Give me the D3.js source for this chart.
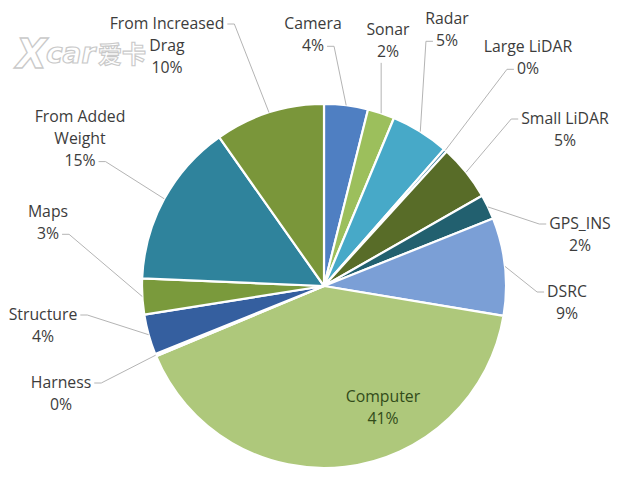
<!DOCTYPE html>
<html><head><meta charset="utf-8">
<script src="https://cdn.jsdelivr.net/npm/d3@7"></script>
<style>html,body{margin:0;padding:0;background:#fff;}svg{display:block;}</style>
</head><body>
<svg id="chart" width="627" height="480"></svg>
<script>
// ---- data ----
const categories = ["Camera","Sonar","Radar","Large LiDAR","Small LiDAR","GPS_INS","DSRC","Computer","Harness","Structure","Maps","From Added Weight","From Increased Drag"];
const shares = [3.9, 2.4, 5.2, 0.3, 5.0, 2.2, 8.7, 41.2, 0.2, 3.6, 3.2, 14.6, 9.8];
const percentLabels = ["4%","2%","5%","0%","5%","2%","9%","41%","0%","4%","3%","15%","10%"];
const labelLines = [["Camera"],["Sonar"],["Radar"],["Large LiDAR"],["Small LiDAR"],["GPS_INS"],["DSRC"],["Computer"],["Harness"],["Structure"],["Maps"],["From Added","Weight"],["From Increased","Drag"]];

// ---- style / layout ----
const colors = ["#4f7fc2","#9cbf5c","#47a9c8","#3f7fa0","#586c28","#22606f","#7b9fd6","#aec87b","#8aa6d8","#355f9f","#7a9a3c","#2f839c","#7a963a"];
// label position: x center, y of first line; side of leader attach; line index to attach
const labelLayout = [
  {x:313,y:23,side:"r",line:1},
  {x:388,y:29,side:"b",line:1},
  {x:447,y:18,side:"l",line:1},
  {x:528,y:46,side:"l",line:1},
  {x:565,y:118,side:"l",line:0},
  {x:580,y:223,side:"l",line:0},
  {x:567,y:291,side:"l",line:0},
  {x:383,y:396,side:"none",line:0},
  {x:61,y:382,side:"r",line:0},
  {x:43,y:314,side:"r",line:0},
  {x:48,y:211,side:"r",line:1},
  {x:80,y:116,side:"r",line:2},
  {x:167,y:23,side:"r",line:0}
];
const W=627,H=480,cx=324,cy=286,R=182,lineH=22.3,fontSize=15.8;

const svg=d3.select("#chart");
const g=svg.append("g").attr("transform",`translate(${cx},${cy})`);
const pie=d3.pie().sort(null).value(d=>d)(shares);
const arc=d3.arc().innerRadius(0).outerRadius(R);

g.selectAll("path.slice").data(pie).join("path").attr("class","slice")
  .attr("d",arc).attr("fill",(d,i)=>colors[i])
  .attr("stroke","#fff").attr("stroke-width",2.2).attr("stroke-linejoin","round");

// watermark (kept clear of the labels)
const wm=svg.append("g").attr("opacity",0.9);
wm.append("text").attr("x",16).attr("y",68).text("X")
  .attr("font-family","DejaVu Sans").attr("font-weight","bold").attr("font-style","italic")
  .attr("font-size",40).attr("fill","#fff").attr("stroke","#c4c4c4").attr("stroke-width",1.3);
wm.append("text").attr("x",46).attr("y",63).text("car")
  .attr("font-family","DejaVu Sans").attr("font-weight","bold").attr("font-style","italic")
  .attr("font-size",28).attr("fill","#fff").attr("stroke","#c4c4c4").attr("stroke-width",1.2);
wm.append("text").attr("x",98).attr("y",63).text("爱卡")
  .attr("font-family","Noto Sans CJK SC").attr("font-weight","bold")
  .attr("font-size",24).attr("fill","#fff").attr("stroke","#c4c4c4").attr("stroke-width",1.1);

// labels + leaders
const labG=svg.append("g");
pie.forEach((d,i)=>{
  const L=labelLayout[i];
  const lines=labelLines[i].concat([percentLabels[i]]);
  const inside=L.side==="none";
  const t=labG.append("g");
  const tx=t.append("text").attr("text-anchor","middle")
    .attr("font-family","Open Sans").attr("font-size",fontSize)
    .attr("fill",inside?"#324c1a":"#3c3c3c");
  lines.forEach((s,k)=>tx.append("tspan").attr("x",L.x).attr("y",L.y+k*lineH).attr("dy","0.35em").text(s));
  if(inside) return;
  const mid=(d.startAngle+d.endAngle)/2;
  const px=cx+R*Math.sin(mid), py=cy-R*Math.cos(mid);
  const node=tx.node();
  const ly=L.y+L.line*lineH;
  let pts;
  if(L.side==="b"){
    const bb=node.getBBox();
    pts=[[px,bb.y+bb.height+1],[px,py]];
  } else {
    const span=tx.selectAll("tspan").nodes()[L.line];
    const w=span.getComputedTextLength();
    const ax = L.side==="r" ? L.x+w/2+3 : L.x-w/2-3;
    const ex = L.side==="r" ? ax+7 : ax-7;
    pts=[[ax,ly+1],[ex,ly+1],[px,py]];
  }
  labG.append("path").attr("d",d3.line()(pts)).attr("fill","none")
    .attr("stroke","#b4b4b4").attr("stroke-width",1);
});
</script>
</body></html>
